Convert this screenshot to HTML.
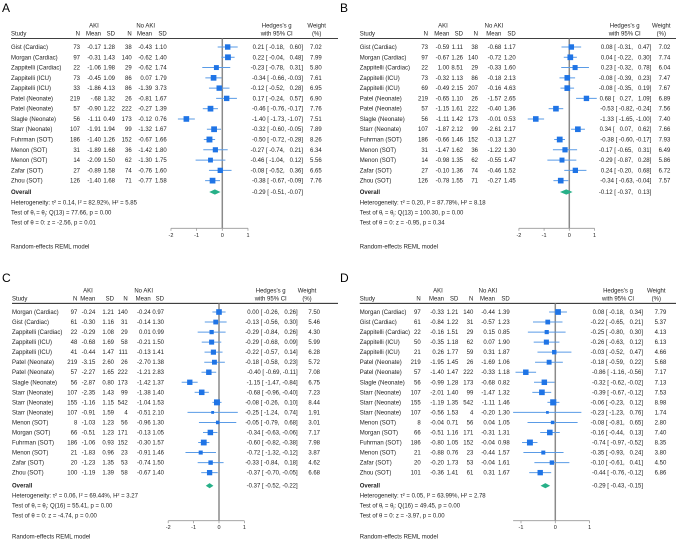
<!DOCTYPE html>
<html><head><meta charset="utf-8"><style>
html,body{margin:0;padding:0;background:#fff}
svg{display:block;font-family:"Liberation Sans",Arial,sans-serif}
</style></head><body>
<svg id="chart" width="677" height="542" viewBox="0 0 677 542" xmlns="http://www.w3.org/2000/svg"></svg>
<script>
// ---------- Panel A data ----------
const studiesA = ["Gist (Cardiac)","Morgan (Cardiac)","Zappitelli (Cardiac)","Zappitelli (ICU)","Zappitelli (ICU)","Patel (Neonate)","Patel (Neonate)","Slagle (Neonate)","Starr (Neonate)","Fuhrman (SOT)","Menon (SOT)","Menon (SOT)","Zafar (SOT)","Zhou (SOT)"];
const tableA = [["73","-0.17","1.28","38","-0.43","1.10"],["97","-0.31","1.43","140","-0.62","1.40"],["22","-1.06","1.98","29","-0.62","1.74"],["73","-0.45","1.09","86","0.07","1.79"],["33","-1.86","4.13","86","-1.39","3.73"],["219","-.68","1.32","26","-0.81","1.67"],["57","-0.90","1.22","222","-0.27","1.39"],["56","-1.11","0.49","173","-0.12","0.76"],["107","-1.91","1.94","99","-1.32","1.67"],["186","-1.40","1.26","152","-0.67","1.66"],["31","-1.89","1.68","36","-1.42","1.80"],["14","-2.09","1.50","62","-1.30","1.75"],["27","-0.89","1.58","74","-0.76","1.60"],["126","-1.40","1.68","71","-0.77","1.58"]];
const gA = [0.21,0.22,-0.23,-0.34,-0.12,0.17,-0.46,-1.40,-0.32,-0.50,-0.27,-0.46,-0.08,-0.38];
const loA = [-0.18,-0.04,-0.78,-0.66,-0.52,-0.24,-0.76,-1.73,-0.60,-0.72,-0.74,-1.04,-0.52,-0.67];
const hiA = [0.60,0.48,0.31,-0.03,0.28,0.57,-0.17,-1.07,-0.05,-0.28,0.21,0.12,0.36,-0.09];
const wA = [7.02,7.99,5.80,7.61,6.95,6.90,7.76,7.51,7.89,8.26,6.34,5.56,6.65,7.76];
const overallA = [-0.29,-0.51,-0.07];
const statsA = ["Heterogeneity: τ² = 0.14, I² = 82.92%, H² = 5.85","Q(13) = 77.66, p = 0.00","z = -2.56, p = 0.01"];
const ticksA = [-2,-1,0,1];

// ---------- Panel B data ----------
const studiesB = studiesA.slice();
const tableB = [["73","-0.59","1.11","38","-0.68","1.17"],["97","-0.67","1.26","140","-0.72","1.20"],["22","1.00","8.51","29","-0.33","1.60"],["73","-0.32","1.13","86","-0.18","2.13"],["69","-0.49","2.15","207","-0.16","4.63"],["219","-0.65","1.10","26","-1.57","2.65"],["57","-1.15","1.61","222","-0.40","1.36"],["56","-1.11","1.42","173","-0.01","0.53"],["107","-1.87","2.12","99","-2.61","2.17"],["186","-0.66","1.46","152","-0.13","1.27"],["31","-1.47","1.62","36","-1.22","1.30"],["14","-0.98","1.35","62","-0.55","1.47"],["27","-0.10","1.36","74","-0.46","1.52"],["126","-0.78","1.55","71","-0.27","1.45"]];
const gB = [0.08,0.04,0.23,-0.08,-0.08,0.68,-0.53,-1.33,0.34,-0.38,-0.17,-0.29,0.24,-0.34];
const loB = [-0.31,-0.22,-0.32,-0.39,-0.35,0.27,-0.82,-1.65,0.07,-0.60,-0.65,-0.87,-0.20,-0.63];
const hiB = [0.47,0.30,0.78,0.23,0.19,1.09,-0.24,-1.00,0.62,-0.17,0.31,0.28,0.68,-0.04];
const wB = [7.02,7.74,6.04,7.47,7.67,6.89,7.56,7.40,7.66,7.93,6.49,5.86,6.72,7.57];
const overallB = [-0.12,-0.37,0.13];
const statsB = ["Heterogeneity: τ² = 0.20, I² = 87.78%, H² = 8.18","Q(13) = 100.30, p = 0.00","z = -0.95, p = 0.34"];
const ticksB = [-2,-1,0,1];

// ---------- Panel C data ----------
const studiesC = ["Morgan (Cardiac)","Gist (Cardiac)","Zappitelli (Cardiac)","Zappitelli (ICU)","Zappitelli (ICU)","Patel (Neonate)","Patel (Neonate)","Slagle (Neonate)","Starr (Neonate)","Starr (Neonate)","Starr (Neonate)","Menon (SOT)","Morgan (SOT)","Fuhrman (SOT)","Menon (SOT)","Zafar (SOT)","Zhou (SOT)"];
const tableC = [["97","-0.24","1.21","140","-0.24","0.97"],["61","-0.30","1.16","31","-0.14","1.30"],["22","-0.29","1.08","29","0.01","0.99"],["48","-0.68","1.69","58","-0.21","1.50"],["41","-0.44","1.47","111","-0.13","1.41"],["219","-3.15","2.60","26","-2.70","1.38"],["57","-2.27","1.65","222","-1.21","2.83"],["56","-2.87","0.80","173","-1.42","1.37"],["107","-2.35","1.43","99","-1.38","1.40"],["155","-1.16","1.15","542","-1.04","1.53"],["107","-0.91","1.59","4","-0.51","2.10"],["8","-1.03","1.23","56","-0.96","1.30"],["66","-0.51","1.23","171","-0.13","1.05"],["186","-1.06","0.93","152","-0.30","1.57"],["21","-1.83","0.96","23","-0.91","1.46"],["20","-1.23","1.35","53","-0.74","1.50"],["100","-1.19","1.39","58","-0.67","1.40"]];
const gC = [0.00,-0.13,-0.29,-0.29,-0.22,-0.18,-0.40,-1.15,-0.68,-0.08,-0.25,-0.05,-0.34,-0.60,-0.72,-0.33,-0.37];
const loC = [-0.26,-0.56,-0.84,-0.68,-0.57,-0.58,-0.69,-1.47,-0.96,-0.26,-1.24,-0.79,-0.63,-0.82,-1.32,-0.84,-0.70];
const hiC = [0.26,0.30,0.26,0.09,0.14,0.23,-0.11,-0.84,-0.40,0.10,0.74,0.68,-0.06,-0.38,-0.12,0.18,-0.05];
const wC = [7.50,5.46,4.30,5.99,6.28,5.72,7.08,6.75,7.23,8.44,1.91,3.01,7.17,7.98,3.87,4.62,6.68];
const overallC = [-0.37,-0.52,-0.22];
const statsC = ["Heterogeneity: τ² = 0.06, I² = 69.44%, H² = 3.27","Q(16) = 55.41, p = 0.00","z = -4.74, p = 0.00"];
const ticksC = [-2,-1,0,1];

// ---------- Panel D data ----------
const studiesD = studiesC.slice();
const tableD = [["97","-0.33","1.21","140","-0.44","1.39"],["61","-0.84","1.22","31","-0.57","1.23"],["22","-0.16","1.51","29","0.15","0.85"],["50","-0.35","1.18","62","0.07","1.90"],["21","0.26","1.77","59","0.31","1.87"],["219","-1.95","1.45","26","-1.69","1.06"],["57","-1.40","1.47","222","-0.33","1.18"],["56","-0.99","1.28","173","-0.68","0.82"],["107","-2.01","1.40","99","-1.47","1.32"],["155","-1.19","1.35","542","-1.11","1.46"],["107","-0.56","1.53","4","-0.20","1.30"],["8","-0.04","0.71","56","0.04","1.05"],["66","-0.51","1.16","171","-0.31","1.31"],["186","-0.80","1.05","152","-0.04","0.98"],["21","-0.88","0.76","23","-0.44","1.57"],["20","-0.20","1.73","53","-0.04","1.61"],["101","-0.36","1.41","61","0.31","1.67"]];
const gD = [0.08,-0.22,-0.25,-0.26,-0.03,-0.18,-0.86,-0.32,-0.39,-0.06,-0.23,-0.08,-0.16,-0.74,-0.35,-0.10,-0.44];
const loD = [-0.18,-0.65,-0.80,-0.63,-0.52,-0.59,-1.16,-0.62,-0.67,-0.23,-1.23,-0.81,-0.44,-0.97,-0.93,-0.61,-0.76];
const hiD = [0.34,0.21,0.30,0.12,0.47,0.22,-0.56,-0.02,-0.12,0.12,0.76,0.65,0.13,-0.52,0.24,0.41,-0.12];
const wD = [7.79,5.37,4.13,6.13,4.66,5.68,7.17,7.13,7.53,8.98,1.74,2.80,7.40,8.35,3.80,4.50,6.86];
const overallD = [-0.29,-0.43,-0.15];
const statsD = ["Heterogeneity: τ² = 0.05, I² = 63.99%, H² = 2.78","Q(16) = 49.45, p = 0.00","z = -3.97, p = 0.00"];
const ticksD = [-1,0,1];

const svg = document.getElementById('chart');
const NS = 'http://www.w3.org/2000/svg';
function el(tag, attrs, parent){
  const e = document.createElementNS(NS, tag);
  for (const k in attrs) e.setAttribute(k, attrs[k]);
  (parent||svg).appendChild(e);
  return e;
}
function txt(x, y, s, anchor, parent, extra){
  const t = el('text', Object.assign({x:x, y:y, 'font-size':6, fill:'#222', 'text-anchor':anchor||'start'}, extra||{}), parent);
  t.textContent = s;
  return t;
}
function f2(v){ return (v<0?'-':'')+Math.abs(v).toFixed(2); }
function pad(v){ const s=f2(v); return s.length<5 ? '\u2007'+s : s; }

const panels = [
  {id:'a', label:'A', studies:studiesA, table:tableA, g:gA, lo:loA, hi:hiA, w:wA, ov:overallA, stats:statsA, ticks:ticksA, axMin:-2, axMax:1,
   ox:0, oy:0, sx:11, rights:[80,101,115,131.7,152,166.7], aki:94, noaki:145.7, lineY:38.5, row0:47, pitch:10.28,
   ovY:192, statY:[202.3,212.3,222.7], axisY:228.3, remlY:248.5, zero:222.3, scale:25.67, hedges:276.7, ciR:303, wC:316.7, wR:321.7},
  {id:'b', label:'B', studies:studiesB, table:tableB, g:gB, lo:loB, hi:hiB, w:wB, ov:overallB, stats:statsB, ticks:ticksB, axMin:-2, axMax:1,
   ox:338, oy:0, sx:21.7, rights:[90,111.3,125,140,163.3,177.7], aki:105, noaki:156, lineY:38.5, row0:47, pitch:10.28,
   ovY:192, statY:[202.3,212.3,222.7], axisY:228.3, remlY:248.5, zero:231.3, scale:25.2, hedges:286.7, ciR:313.3, wC:323.3, wR:332.3},
  {id:'c', label:'C', studies:studiesC, table:tableC, g:gC, lo:loC, hi:hiC, w:wC, ov:overallC, stats:statsC, ticks:ticksC, axMin:-2, axMax:1,
   ox:0, oy:270, sx:12, rights:[77.3,95.3,114,127.7,150.7,164], aki:88, noaki:143.7, lineY:33.3, row0:42, pitch:10.04,
   ovY:215.7, statY:[225.7,235.7,245.7], axisY:250.7, remlY:268.5, zero:219, scale:25.4, hedges:270.7, ciR:297.7, wC:307, wR:320},
  {id:'d', label:'D', studies:studiesD, table:tableD, g:gD, lo:loD, hi:hiD, w:wD, ov:overallD, stats:statsD, ticks:ticksD, axMin:null, axMax:1,
   ox:338, oy:270, sx:21.7, rights:[82.7,106,120.3,135.3,157,171.7], aki:100, noaki:150, lineY:33.3, row0:42, pitch:10.04,
   ovY:215.7, statY:[225.7,235.7,245.7], axisY:250.7, remlY:268.5, zero:217.3, scale:34.3, hedges:280, ciR:305, wC:318.3, wR:328.3}
];

panels.forEach(p => {
  const G = el('g', {transform:`translate(${p.ox},${p.oy})`});
  
  
  const X = v => p.zero + v * p.scale;
  const Y = i => p.row0 + i * p.pitch;

  const lab = txt(2, 12, p.label, 'start', G, {'font-size':12, fill:'#000'});
  
  

  const hY1 = p.lineY - 11, hY2 = p.lineY - 3;
  txt(p.aki, hY1, 'AKI', 'middle', G);
  txt(p.noaki, hY1, 'No AKI', 'middle', G);
  txt(p.sx, hY2, 'Study', 'start', G);
  ['N','Mean','SD','N','Mean','SD'].forEach((h, j) => txt(p.rights[j], hY2, h, 'end', G));
  txt(p.hedges, hY1, "Hedges's g", 'middle', G);
  txt(p.hedges, hY2, 'with 95% CI', 'middle', G);
  txt(p.wC, hY1, 'Weight', 'middle', G);
  txt(p.wC, hY2, '(%)', 'middle', G);
  const hl = el('line', {x1:p.sx, x2:338, y1:p.lineY, y2:p.lineY, stroke:'#000', 'stroke-width':0.8}, G);
  
  

  const zl = el('line', {x1:X(0), x2:X(0), y1:p.lineY, y2:p.axisY, stroke:'#8a8a8a', 'stroke-width':1.5}, G);
  
  

  p.studies.forEach((s, i) => {
    const y = Y(i);
    const row = el('g', {}, G);
    
    
    txt(p.sx, y + 2, s, 'start', row);
    p.table[i].forEach((c, j) => txt(p.rights[j], y + 2, c, 'end', row));
    txt(p.ciR, y + 2, pad(p.g[i]) + ' [ ' + pad(p.lo[i]) + ', ' + pad(p.hi[i]) + ']', 'end', row, {'xml:space':'preserve'});
    txt(p.wR, y + 2, p.w[i].toFixed(2), 'end', row);
    const ci = el('line', {x1:X(p.lo[i]), x2:X(p.hi[i]), y1:y, y2:y, stroke:'#5a9be6', 'stroke-width':1}, row);
    
    
    const side = 2.05 * Math.sqrt(p.w[i]);
    const sq = el('rect', {x:X(p.g[i]) - side/2, y:y - side/2, width:side, height:side, fill:'#1f74e6'}, row);
    
    
  });

  txt(p.sx, p.ovY + 2, 'Overall', 'start', G, {'font-weight':'bold'});
  txt(p.ciR, p.ovY + 2, pad(p.ov[0]) + ' [ ' + pad(p.ov[1]) + ', ' + pad(p.ov[2]) + ']', 'end', G);
  const d = el('polygon', {points:`${X(p.ov[1])},${p.ovY} ${X(p.ov[0])},${p.ovY-2.6} ${X(p.ov[2])},${p.ovY} ${X(p.ov[0])},${p.ovY+2.6}`, fill:'#27b088'}, G);
  
  

  txt(p.sx, p.statY[0] + 2, p.stats[0], 'start', G);
  const t2 = txt(p.sx, p.statY[1] + 2, 'Test of θ', 'start', G);
  let ts = el('tspan', {'font-size':4, dy:1}, t2); ts.textContent = 'i';
  ts = el('tspan', {dy:-1}, t2); ts.textContent = ' = θ';
  ts = el('tspan', {'font-size':4, dy:1}, t2); ts.textContent = 'j';
  ts = el('tspan', {dy:-1}, t2); ts.textContent = ': ' + p.stats[1];
  txt(p.sx, p.statY[2] + 2, 'Test of θ = 0: ' + p.stats[2], 'start', G);

  const axMin = p.axMin === null ? Math.min(...p.lo) : p.axMin;
  const ax = el('g', {}, G);
  
  
  el('line', {x1:X(axMin), x2:X(p.axMax), y1:p.axisY, y2:p.axisY, stroke:'#999', 'stroke-width':0.8}, ax);
  p.ticks.forEach(t => {
    el('line', {x1:X(t), x2:X(t), y1:p.axisY, y2:p.axisY + 2.5, stroke:'#999', 'stroke-width':0.8}, ax);
    txt(X(t), p.axisY + 8.5, String(t), 'middle', ax, {'font-size':5.5});
  });
  txt(p.sx, p.remlY, 'Random-effects REML model', 'start', G);
});
</script>
</body></html>
